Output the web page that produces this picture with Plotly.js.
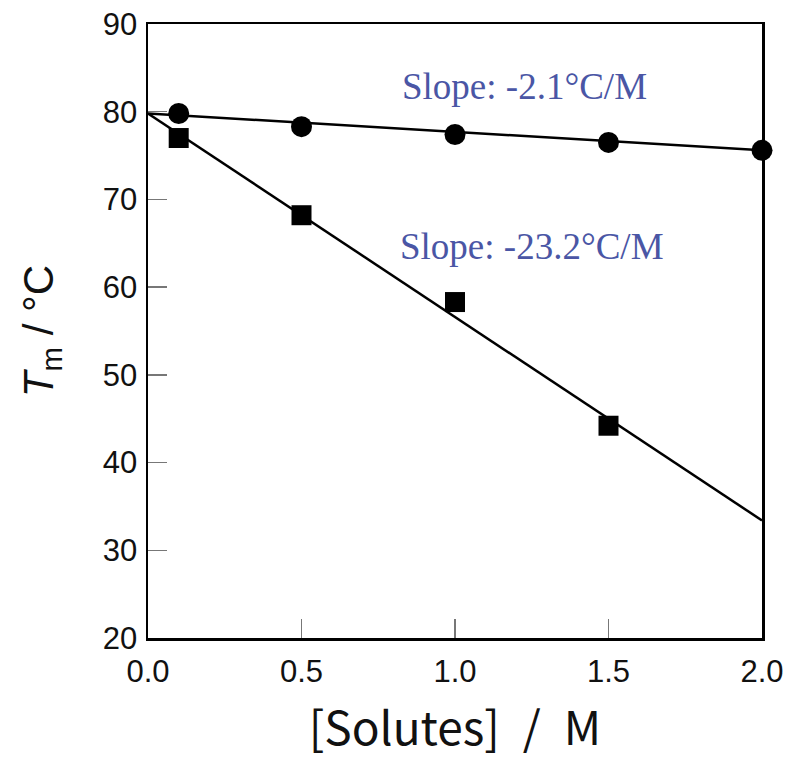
<!DOCTYPE html>
<html>
<head>
<meta charset="utf-8">
<script src="https://cdn.plot.ly/plotly-3.0.1.min.js"></script>
<style>html,body{margin:0;padding:0;background:#fff;}#chart{width:787px;height:758px;}</style>
</head>
<body>
<div id="chart"></div>
<script>
// Measured points
const solutesX = [0.1, 0.5, 1.0, 1.5, 2.0];
const tmCircles = [79.8, 78.3, 77.4, 76.5, 75.6];
const squaresX = [0.1, 0.5, 1.0, 1.5];
const tmSquares = [77.0, 68.2, 58.3, 44.2];
// Linear fit lines (endpoints)
const fitX = [0.0, 2.0];
const fitCircles = [79.8, 75.6];
const fitSquares = [79.8, 33.4];
const slopeLabels = ['Slope: -2.1°C/M', 'Slope: -23.2°C/M'];
const xTicks = [0, 0.5, 1.0, 1.5, 2.0];
const xTickText = ['0.0', '0.5', '1.0', '1.5', '2.0'];
const yTicks = [20, 30, 40, 50, 60, 70, 80, 90];

const traces = [
  {x: fitX, y: fitCircles, mode: 'lines', line: {color: '#000', width: 2.5}, hoverinfo: 'skip'},
  {x: fitX, y: fitSquares, mode: 'lines', line: {color: '#000', width: 2.5}, hoverinfo: 'skip'},
  {x: solutesX, y: tmCircles, mode: 'markers', marker: {symbol: 'circle', size: 21, color: '#000'}, cliponaxis: false},
  {x: squaresX, y: tmSquares, mode: 'markers', marker: {symbol: 'square', size: 20, color: '#000'}, cliponaxis: false}
];

const axisCommon = {
  showline: true, mirror: true, linecolor: '#000', linewidth: 2.5,
  ticks: 'inside', ticklen: 19, tickwidth: 1.5, tickcolor: '#777',
  showgrid: false, zeroline: false,
  tickfont: {family: 'Liberation Sans, Arial, sans-serif', size: 31, color: '#111'}
};

const layout = {
  width: 787, height: 758,
  margin: {l: 148, r: 25, t: 24, b: 120},
  paper_bgcolor: '#fff', plot_bgcolor: '#fff',
  showlegend: false,
  xaxis: Object.assign({}, axisCommon, {
    range: [0, 2.0], tickvals: xTicks, ticktext: xTickText,
    ticklabelstandoff: 4,
    title: {text: '[Solutes]\u2002/\u2002M', font: {family: 'Noto Sans CJK JP, sans-serif', size: 46, color: '#111'}, standoff: 39}
  }),
  yaxis: Object.assign({}, axisCommon, {
    range: [20, 90], tickvals: yTicks,
    ticklabelstandoff: 2,
    title: {text: '<i>T</i><sub>m</sub> / °C', font: {family: 'Liberation Sans, Arial, sans-serif', size: 42, color: '#111'}, standoff: 36}
  }),
  annotations: [
    {x: 0.82, y: 82.9, xref: 'x', yref: 'y', text: slopeLabels[0], showarrow: false, xanchor: 'left', yanchor: 'middle',
     font: {family: 'Liberation Serif, Times New Roman, serif', size: 37, color: '#4a56a5'}},
    {x: 0.815, y: 64.6, xref: 'x', yref: 'y', text: slopeLabels[1], showarrow: false, xanchor: 'left', yanchor: 'middle',
     font: {family: 'Liberation Serif, Times New Roman, serif', size: 37, color: '#4a56a5'}}
  ]
};

Plotly.newPlot('chart', traces, layout, {displayModeBar: false, staticPlot: true});
</script>
</body>
</html>
